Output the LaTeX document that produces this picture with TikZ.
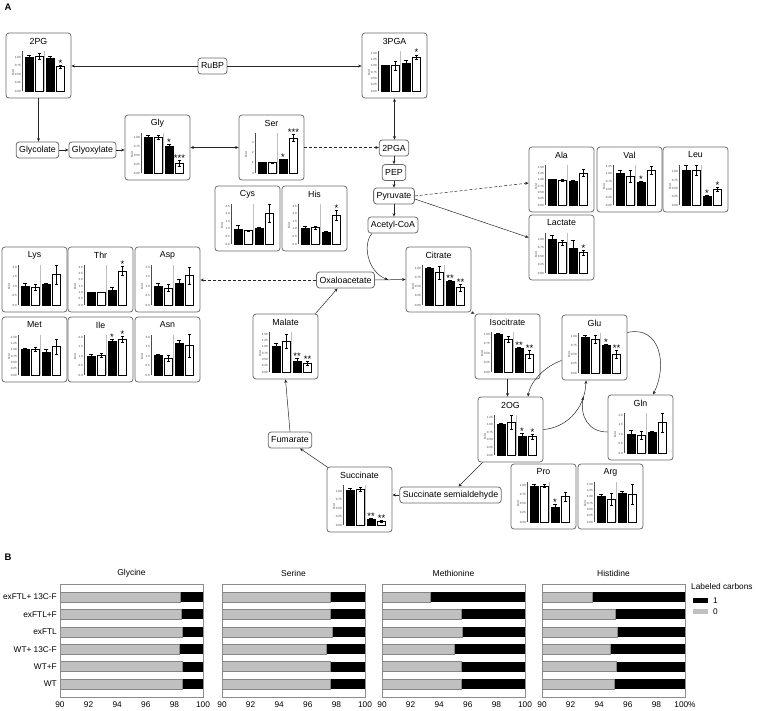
\documentclass[tikz,border=0pt]{standalone}
\usepackage{fontspec}
\setmainfont{Liberation Sans}
\usetikzlibrary{arrows.meta,calc}
\definecolor{boxgray}{HTML}{6A6A6A}
\definecolor{bargray}{HTML}{C0C0C0}
\definecolor{baredge}{HTML}{858585}
\tikzset{
  chartbox/.style={draw=boxgray,line width=0.8pt,rounded corners=3pt,minimum width=65pt,minimum height=65pt,inner sep=0pt},
  met/.style={draw=boxgray,line width=0.8pt,rounded corners=3pt,inner xsep=3pt,inner ysep=1pt,minimum height=16pt,font=\fontsize{8.8}{10}\selectfont},
  ctitle/.style={font=\fontsize{8.8}{10}\selectfont,inner sep=0pt},
  ticklab/.style={font=\fontsize{3}{3.5}\selectfont,anchor=east,inner sep=0pt,text=black!75},
  foldlab/.style={font=\fontsize{3}{3.5}\selectfont,rotate=90,inner sep=0pt,text=black!75},
  starlab/.style={font=\fontsize{9.5}{9.5}\selectfont,inner sep=0pt,anchor=base},
  axisline/.style={line width=0.4pt,draw=black!70},
  sepline/.style={line width=0.3pt,draw=black!25},
  barline/.style={line width=0.6pt,draw=black},
  errline/.style={line width=0.5pt,draw=black},
  arr/.style={-{Stealth[length=3.5pt,width=3pt]},line width=0.5pt,draw=black!85},
  darr/.style={{Stealth[length=3.5pt,width=3pt]}-{Stealth[length=3.5pt,width=3pt]},line width=0.5pt,draw=black!85},
  dsh/.style={dash pattern=on 3pt off 2pt},
  bframe/.style={draw=black!45,line width=0.5pt},
  gbar/.style={fill=bargray,draw=baredge,line width=0.4pt},
  btitle/.style={font=\fontsize{8.5}{10}\selectfont,inner sep=0pt},
  blab/.style={font=\fontsize{8.3}{10}\selectfont,inner sep=0pt},
  panel/.style={font=\bfseries\fontsize{9.5}{11}\selectfont,inner sep=0pt}
}
\def\tA{0/0.00,0.25/0.25,0.5/0.50,0.75/0.75,1/1.00}
\def\tB{0/0.00,0.25/0.25,0.5/0.50,0.75/0.75,1/1.00,1.25/1.25}
\def\tC{0/0.00,0.25/0.25,0.5/0.50,0.75/0.75,1/1.00,1.25/1.25,1.5/1.50}
\def\tD{0/0.0,0.5/0.5,1/1.0,1.5/1.5,2/2.0}
\def\tE{0/0.0,0.5/0.5,1/1.0,1.5/1.5,2/2.0,2.5/2.5}
\def\tF{0/0.0,0.5/0.5,1/1.0,1.5/1.5,2/2.0,2.5/2.5,3/3.0}
\def\tS{0/0,1/1,2/2,3/3}
% #1 name #2 x #3 y #4 title #5 scale-top #6 ticks #7 bars #8 ylabel
\newcommand{\mchart}[8]{%
  \begin{scope}[shift={(#2,#3)}]
    \node[chartbox] (#1) at (32.5,32.5) {};
    \node[ctitle] (#1-t) at (32.5,8) {#4};
    \pgfmathsetmacro{\mcsc}{38/#5}
    \draw[sepline] (38.5,58) -- (38.5,18);
    \foreach \tv/\tl in #6 {\node[ticklab] at (15,{58-\tv*\mcsc}) {\tl};}
    \node[foldlab] (#1-f) at (7,40) {#8};
    \foreach \bv/\be/\bs [count=\bi] in {#7} {
      \pgfmathsetmacro{\bx}{19+(\bi-1)*10.5}
      \pgfmathsetmacro{\btop}{58-\bv*\mcsc}
      \pgfmathsetmacro{\ehi}{58-(\bv+\be)*\mcsc}
      \pgfmathsetmacro{\elo}{58-(\bv-\be)*\mcsc}
      \ifodd\bi
        \draw[barline,fill=black] (\bx,58) rectangle ({\bx+8},\btop);
      \else
        \draw[barline,fill=white] (\bx,58) rectangle ({\bx+8},\btop);
      \fi
      \draw[errline] ({\bx+4},\elo) -- ({\bx+4},\ehi);
      \draw[errline] ({\bx+2.3},\ehi) -- ({\bx+5.7},\ehi);
      \draw[errline] ({\bx+2.3},\elo) -- ({\bx+5.7},\elo);
      \ifnum\bs>0
        \node[starlab] at ({\bx+4},{\ehi+1.2}) {\ifcase\bs\or*\or**\or***\fi};
      \fi
    }
    \draw[axisline] (16,58.3) -- (16,18);
  \end{scope}}
% #1 x0 #2 title #3 values #4 last tick label
\newcommand{\bplot}[4]{%
  \begin{scope}[shift={(#1,0)}]
    \node[btitle] at (71.5,573) {#2};
    \foreach \gv [count=\gi] in {#3} {
      \pgfmathsetmacro{\gy}{597+(\gi-1)*17.4}
      \pgfmathsetmacro{\gx}{(\gv-90)*14.3}
      \fill[black] (\gx,{\gy-5}) rectangle (143,{\gy+5});
      \draw[gbar] (0,{\gy-5}) rectangle (\gx,{\gy+5});
    }
    \draw[bframe] (0,584) rectangle (143,697);
    \foreach \tk in {90,92,94,96,98} {\node[blab] at ({(\tk-90)*14.3},705) {\tk};}
    \node[blab] at (143,705) {#4};
  \end{scope}}
\begin{document}
\begin{tikzpicture}[x=1pt,y=-1pt]
\useasboundingbox (0,0) rectangle (758,710);
\node[panel] (pA) at (8,7) {A};
\node[panel] (pB) at (8,557) {B};
% ---- charts ----
\mchart{pg2}{6}{33}{2PG}{1.12}{\tA}{1.0/0.05/0,1.02/0.08/0,0.97/0.05/0,0.72/0.05/1}{Fold}
\mchart{pga3}{362}{33}{3PGA}{1.5}{\tC}{1.0/0.02/0,1.0/0.17/0,1.1/0.1/0,1.35/0.08/1}{Fold}
\mchart{gly}{125}{115}{Gly}{1.06}{\tA}{1.0/0.04/0,1.0/0.05/0,0.75/0.05/1,0.27/0.08/3}{Fold}
\mchart{ser}{239}{115}{Ser}{3.68}{\tS}{1.05/0.03/0,1.0/0.02/0,1.3/0.06/1,3.4/0.35/3}{Fold}
\mchart{cys}{215}{186}{Cys}{2.5}{\tE}{1.0/0.25/0,0.9/0.03/0,1.05/0.05/0,2.0/0.6/0}{Fold}
\mchart{his}{282}{186}{His}{2.5}{\tE}{1.05/0.15/0,1.1/0.1/0,0.78/0.05/0,1.9/0.35/1}{Fold}
\mchart{ala}{529}{147}{Ala}{1.5}{\tC}{1.0/0.02/0,0.97/0.03/0,0.92/0.07/0,1.27/0.15/0}{Fold}
\mchart{val}{597}{147}{Val}{1.22}{\tB}{1.02/0.1/0,0.92/0.2/0,0.72/0.03/1,1.12/0.12/0}{Fold}
\mchart{leu}{663}{147}{Leu}{1.14}{\tA}{1.03/0.17/0,1.05/0.15/0,0.25/0.03/1,0.48/0.06/1}{Fold}
\mchart{lac}{529}{215}{Lactate}{1.12}{\tA}{1.0/0.12/0,0.9/0.08/0,0.72/0.25/0,0.6/0.08/1}{Fold}
\mchart{lys}{2}{247}{Lys}{2.0}{\tD}{1.0/0.15/0,0.95/0.15/0,1.1/0.03/0,1.6/0.5/0}{Fold}
\mchart{thr}{68}{247}{Thr}{3.0}{\tF}{1.0/0.03/0,1.0/0.02/0,1.2/0.18/0,2.7/0.35/1}{Fold}
\mchart{asp}{135}{247}{Asp}{2.0}{\tD}{1.0/0.15/0,0.9/0.18/0,1.15/0.22/0,1.55/0.45/0}{Fold}
\mchart{met}{2}{317}{Met}{1.5}{\tC}{1.0/0.05/0,1.02/0.08/0,0.88/0.12/0,1.12/0.3/0}{Fold}
\mchart{ile}{68}{317}{Ile}{2.0}{\tD}{1.0/0.1/0,1.02/0.1/0,1.75/0.15/1,1.9/0.15/1}{Fold}
\mchart{asn}{135}{317}{Asn}{2.0}{\tD}{1.02/0.08/0,0.88/0.15/0,1.65/0.18/0,1.55/0.6/0}{Fold}
\mchart{cit}{406}{247}{Citrate}{1.03}{\tA}{1.0/0.03/0,0.88/0.18/0,0.63/0.03/2,0.47/0.1/2}{Fold}
\mchart{mal}{253}{314}{Malate}{1.5}{\tC}{1.02/0.12/0,1.22/0.28/0,0.43/0.1/2,0.35/0.07/2}{Fold}
\mchart{icit}{475}{314}{Isocitrate}{1.0}{\tA}{1.0/0.02/0,0.85/0.08/0,0.63/0.03/2,0.47/0.1/2}{Fold}
\mchart{glu}{562}{315}{Glu}{1.05}{\tA}{1.0/0.05/0,0.93/0.12/0,0.77/0.02/1,0.52/0.1/2}{Fold}
\mchart{og2}{478}{397}{2OG}{1.25}{\tB}{1.02/0.04/0,1.08/0.22/0,0.63/0.08/1,0.6/0.08/1}{Fold}
\mchart{gln}{608}{395}{Gln}{2.0}{\tD}{1.0/0.18/0,0.95/0.2/0,1.1/0.03/0,1.6/0.5/0}{Fold}
\mchart{suc}{327}{467}{Succinate}{1.12}{\tA}{1.02/0.05/0,1.05/0.05/0,0.17/0.03/2,0.12/0.03/2}{Fold}
\mchart{pro}{511}{464}{Pro}{1.05}{\tA}{1.0/0.03/0,0.99/0.04/0,0.4/0.08/1,0.7/0.12/0}{Fold}
\mchart{arg}{578}{464}{Arg}{1.5}{\tC}{1.0/0.1/0,0.9/0.25/0,1.15/0.07/0,1.1/0.4/0}{Fold}
% ---- metabolite nodes ----
\node[met] (rubp) at (212.5,66) {RuBP};
\node[met] (glycolate) at (37.5,150) {Glycolate};
\node[met] (glyoxylate) at (92.5,150) {Glyoxylate};
\node[met] (pga2) at (394,148) {2PGA};
\node[met] (pep) at (394,172.5) {PEP};
\node[met] (pyr) at (394,196) {Pyruvate};
\node[met] (accoa) at (393,225) {Acetyl-CoA};
\node[met] (oaa) at (345.5,280) {Oxaloacetate};
\node[met] (fum) at (290,440) {Fumarate};
\node[met] (ssa) at (450.5,495) {Succinate semialdehyde};
% ---- connectors ----
\draw[arr] (rubp.west) -- (rubp.west -| pg2.east);
\draw[arr] (rubp.east) -- (rubp.east -| pga3.west);
\draw[arr] (pg2.south) -- (pg2.south |- glycolate.north);
\draw[arr] (glycolate.east) -- (glycolate.east -| glyoxylate.west);
\draw[arr] (glyoxylate.east) -- (glyoxylate.east -| gly.west);
\draw[darr] (gly.east) -- (ser.west);
\draw[arr,dsh] (ser.east) -- (ser.east -| pga2.west);
\draw[darr] (pga3.south) -- (pga3.south |- pga2.north);
\draw[arr] (pga2.south) -- (pga2.south |- pep.north);
\draw[arr] (pep.south) -- (pep.south |- pyr.north);
\draw[arr] (pyr.south) -- (pyr.south |- accoa.north);
\draw[arr,dsh] (pyr.east) -- ([yshift=-3.5pt]ala.west);
\draw[arr] ([yshift=-3pt]pyr.east) -- ([yshift=10pt]lac.west);
\draw[arr] (oaa.east) -- (cit.west) coordinate[pos=0.43] (cjoin);
\draw[arr] ([xshift=-21pt]accoa.south) .. controls (362,245) and (368,272) .. (cjoin);
\draw[arr,dsh] (oaa.west) -- (oaa.west -| asp.east);
\draw[arr] ([xshift=-3pt]mal.north east) -- ([xshift=-8pt]oaa.south);
\draw[arr] (fum.north) -- (mal.south);
\draw[arr] ([shift={(1.5pt,-1pt)}]suc.north west) -- ([xshift=10pt]fum.south);
\draw[arr] (ssa.west) -- (ssa.west -| suc.east);
\draw[arr] ([xshift=5pt]og2.south west) -- ([xshift=8pt]ssa.north);
\draw[arr] (cit.south east) -- (icit.north west);
\draw[arr] (icit.south) -- (icit.south |- og2.north);
\draw[arr] ([yshift=-13pt]glu.west) .. controls (545,366) and (530,382) .. ([xshift=17.5pt]og2.north);
\draw[arr] (og2.east) .. controls (565,428) and (585,410) .. ([xshift=-8.5pt]glu.south) coordinate[pos=0.8] (gjoin);
\draw[arr] ([yshift=15pt]glu.east) .. controls (660,325) and (668,365) .. ([xshift=12.5pt]gln.north);
\draw[arr] ([yshift=-4.5pt]gln.west) .. controls (588,432) and (580,416) .. (gjoin);
% ---- panel B ----
\bplot{60}{Glycine}{98.44,98.5,98.58,98.34,98.55,98.53}{100}
\bplot{222}{Serine}{97.54,97.6,97.68,97.3,97.6,97.56}{100}
\bplot{382}{Methionine}{93.4,95.57,95.64,95.03,95.57,95.57}{100}
\bplot{542}{Histidine}{93.54,95.14,95.26,94.74,95.2,95.02}{100\%}
\foreach \rl [count=\ri] in {exFTL+ 13C-F,exFTL+F,exFTL,WT+ 13C-F,WT+F,WT} {
  \node[blab,anchor=east] (row\ri) at (57,{597+(\ri-1)*17.4}) {\rl};
}
\node[blab,anchor=west] (legt) at (691,587) {Labeled carbons};
\fill[black] (693,598) rectangle (708,603);
\node[blab,anchor=west] (leg1) at (713,600.5) {1};
\fill[bargray] (693,609) rectangle (708,614);
\node[blab,anchor=west] (leg0) at (713,611.5) {0};
\end{tikzpicture}
\end{document}
